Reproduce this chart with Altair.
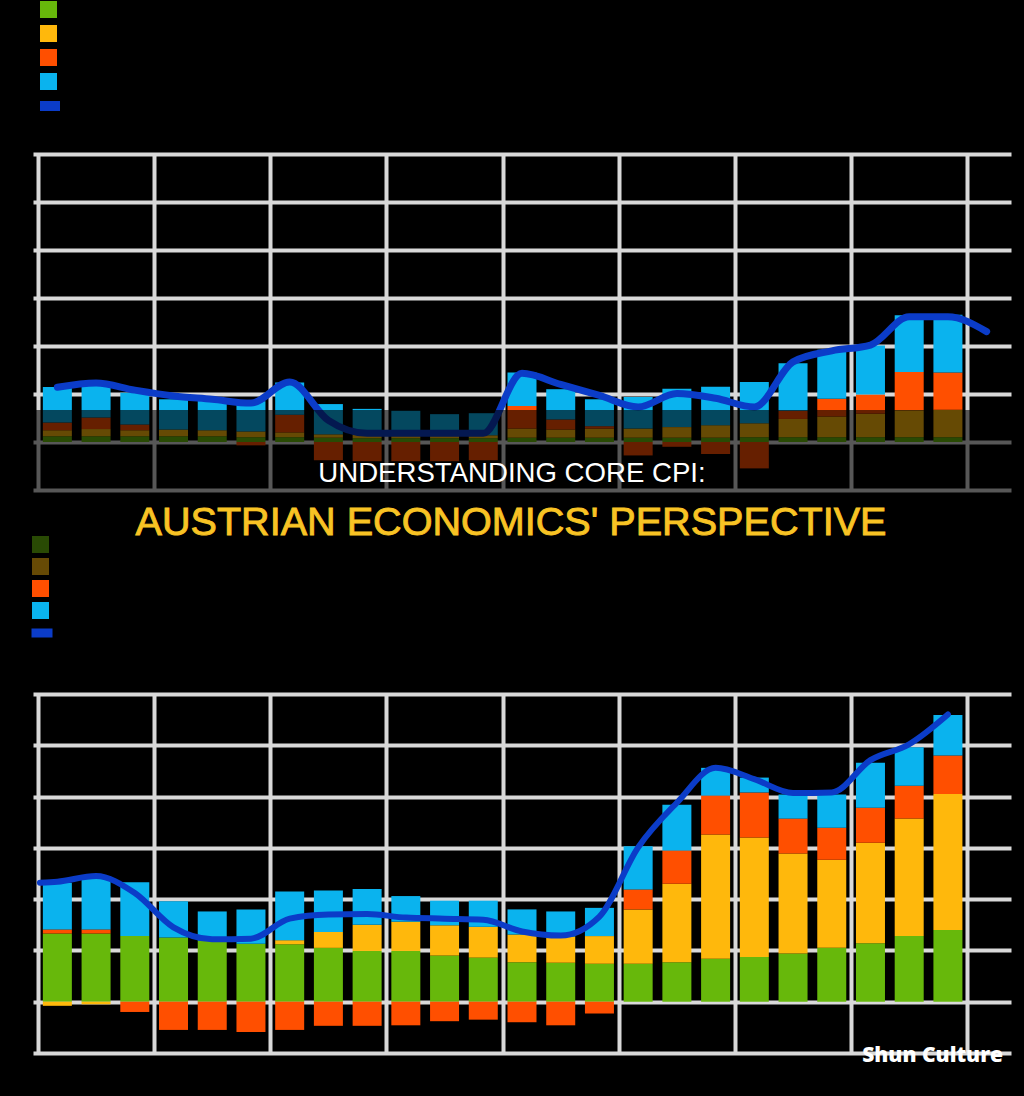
import altair as alt
import pandas as pd

# ---------------- data ----------------
series = ["Energy", "Food", "Core goods", "Core services"]
series_colors = ["#67b80b", "#ffb80c", "#ff4f00", "#0ab3ee"]
line_name = ["Headline CPI"]
line_color = ["#0b3cc8"]

# top panel (24 bars, line with 25 points)
top_green = [0.12, 0.12, 0.12, 0.12, 0.12, 0.10, 0.10, 0.09, 0.08, 0.08, 0.08, 0.08,
             0.09, 0.09, 0.09, 0.09, 0.09, 0.09, 0.10, 0.10, 0.10, 0.10, 0.10, 0.10]
top_yellow = [0.125, 0.15, 0.125, 0.14, 0.125, 0.12, 0.10, 0.07, 0.07, 0.06, 0.06, 0.06,
              0.19, 0.17, 0.19, 0.19, 0.22, 0.26, 0.29, 0.38, 0.43, 0.49, 0.56, 0.57]
top_orange = [0.16, 0.24, 0.12, 0.0, 0.0, -0.07, 0.37, -0.38, -0.40, -0.40, -0.40, -0.38,
              0.47, 0.21, 0.05, -0.28, -0.10, -0.25, -0.55, 0.17, 0.37, 0.40, 0.80, 0.78]
top_blue = [0.74, 0.70, 0.66, 0.63, 0.65, 0.63, 0.67, 0.63, 0.54, 0.51, 0.44, 0.46,
            0.70, 0.63, 0.56, 0.66, 0.80, 0.80, 0.86, 0.99, 1.02, 1.02, 1.18, 1.20]
top_line = [1.14, 1.23, 1.08, 0.96, 0.89, 0.81, 1.25, 0.45, 0.18, 0.18, 0.18, 0.18,
            1.43, 1.20, 0.97, 0.73, 1.01, 0.91, 0.73, 1.67, 1.90, 2.02, 2.61, 2.61, 2.30]
top_line_x = [i + 0.5 for i in range(25)]

# bottom panel (24 bars, line with 25 points)
bot_green = [1.33, 1.33, 1.28, 1.25, 1.19, 1.13, 1.12, 1.05, 0.99, 0.99, 0.90, 0.86,
             0.77, 0.76, 0.74, 0.74, 0.77, 0.84, 0.87, 0.94, 1.05, 1.14, 1.28, 1.40]
bot_yellow = [-0.08, -0.05, 0.0, 0.0, 0.0, 0.0, 0.08, 0.31, 0.51, 0.57, 0.59, 0.60,
              0.54, 0.51, 0.54, 1.06, 1.53, 2.42, 2.33, 1.95, 1.72, 1.96, 2.29, 2.65]
bot_orange = [0.08, 0.08, -0.20, -0.55, -0.55, -0.59, -0.55, -0.47, -0.47, -0.46, -0.38, -0.35,
              -0.40, -0.46, -0.23, 0.39, 0.65, 0.76, 0.88, 0.68, 0.62, 0.68, 0.64, 0.75]
bot_blue = [0.91, 1.04, 1.05, 0.71, 0.57, 0.67, 0.95, 0.81, 0.70, 0.50, 0.48, 0.51,
            0.49, 0.49, 0.55, 0.84, 0.89, 0.54, 0.29, 0.47, 0.65, 0.88, 0.75, 0.79]
bot_line = [2.32, 2.34, 2.45, 2.12, 1.45, 1.22, 1.23, 1.62, 1.70, 1.71, 1.64, 1.62, 1.60,
            1.37, 1.29, 1.66, 3.01, 3.88, 4.56, 4.34, 4.07, 4.08, 4.71, 5.02, 5.60]
bot_line_x = [0.05] + [i + 0.5 for i in range(24)]

title_line1 = ["UNDERSTANDING CORE CPI:"]
title_line2 = ["AUSTRIAN ECONOMICS' PERSPECTIVE"]
watermark = ["Shun Culture"]

y_ticks = [-1, 0, 1, 2, 3, 4, 5, 6]
x_ticks = [0, 3, 6, 9, 12, 15, 18, 21, 24]

GRID = "#d9d9d9"
PLOT_W = 978
TOP_H = 336
BOT_H = 359


def bars_df(cols):
    rows = []
    for s_i, (name, vals) in enumerate(zip(series, cols)):
        for i, v in enumerate(vals):
            rows.append({"x": i + 0.5, "value": v, "series": name, "ord": s_i})
    return pd.DataFrame(rows)


def line_df(xs, vals):
    return pd.DataFrame({"x": xs, "value": vals, "series": line_name[0]})


x_enc = alt.X("x:Q", scale=alt.Scale(domain=[0, 25], nice=False, zero=False),
              axis=alt.Axis(values=x_ticks, grid=True, gridColor=GRID, gridWidth=4,
                            labels=False, ticks=False, domain=False, title=None))
y_axis = alt.Axis(values=y_ticks, grid=True, gridColor=GRID, gridWidth=4,
                  labels=False, ticks=False, domain=False, title=None)
y_scale = alt.Scale(domain=[-1, 6], nice=False)


def panel(cols, lxs, lvals, lw, leg_x, leg_y, sym, row_pad, line_leg_x, line_leg_y,
          line_sym_w, line_sym_h, dim_first=False):
    leg_kwargs = dict(orient="none", legendX=leg_x, legendY=leg_y, title=None,
                      symbolType="square", symbolSize=sym * sym, symbolStrokeWidth=0,
                      labelColor="black", labelFontSize=12, rowPadding=row_pad, padding=0)
    if dim_first:
        leg_kwargs["symbolOpacity"] = {"expr": "datum.index < 2 ? 0.4 : 1"}
    else:
        leg_kwargs["symbolOpacity"] = 1
    bars = alt.Chart(bars_df(cols)).mark_bar(size=29).encode(
        x=x_enc,
        y=alt.Y("value:Q", stack="zero", scale=y_scale, axis=y_axis),
        color=alt.Color("series:N", scale=alt.Scale(domain=series, range=series_colors),
                        legend=alt.Legend(**leg_kwargs)),
        order=alt.Order("ord:Q"),
    )
    line = alt.Chart(line_df(lxs, lvals)).mark_line(
        strokeWidth=lw, interpolate="monotone", strokeCap="round", strokeJoin="round"
    ).encode(
        x="x:Q",
        y="value:Q",
        stroke=alt.Stroke("series:N", scale=alt.Scale(domain=line_name, range=line_color),
                          legend=alt.Legend(orient="none", legendX=line_leg_x,
                                            legendY=line_leg_y,
                                            title=None, symbolType="stroke",
                                            symbolSize=line_sym_w * line_sym_w,
                                            symbolStrokeWidth=line_sym_h,
                                            labelColor="black", labelFontSize=10, padding=0)),
    )
    return bars, line


one = pd.DataFrame({"a": [0]})

# invisible frame that spans the whole canvas (defines the page bounds)
frame = alt.Chart(one).mark_rect(color="black", opacity=0, clip=False).encode(
    x=alt.value(-33), x2=alt.value(991), y=alt.value(-154), y2=alt.value(942))

top_bars, top_ln = panel([top_green, top_yellow, top_orange, top_blue], top_line_x, top_line, 7,
                         7, -153, 17, 7, 2, -63, 20, 10)
top = alt.layer(frame, top_bars, top_ln).properties(width=PLOT_W, height=TOP_H)

bot_bars, bot_ln = panel([bot_green, bot_yellow, bot_orange, bot_blue], bot_line_x, bot_line, 6,
                         -1, -158, 17, 5, -6, -76, 21, 9, dim_first=True)

band = alt.Chart(one).mark_rect(color="black", opacity=0.6, clip=False).encode(
    x=alt.value(-33), x2=alt.value(991), y=alt.value(-284), y2=alt.value(-117))

t1 = alt.Chart(pd.DataFrame({"t": title_line1})).mark_text(
    font="Liberation Sans", fontSize=27.6, color="white", align="center", baseline="alphabetic"
).encode(text="t:N", x=alt.value(479), y=alt.value(-212))

t2 = alt.Chart(pd.DataFrame({"t": title_line2})).mark_text(
    font="Liberation Sans", fontSize=39.6, color="#f8c324", stroke="#f8c324", strokeWidth=0.9,
    align="center", baseline="alphabetic"
).encode(text="t:N", x=alt.value(478), y=alt.value(-159))

wm = alt.Chart(pd.DataFrame({"t": watermark})).mark_text(
    font="Open Sans", fontSize=21, fontWeight=800, color="white", align="right",
    baseline="alphabetic"
).encode(text="t:N", x=alt.value(970), y=alt.value(368))

bottom = alt.layer(bot_bars, bot_ln, band, t1, t2, wm).properties(width=PLOT_W, height=BOT_H)

chart = alt.vconcat(top, bottom, spacing=204, bounds="flush", padding=0).resolve_scale(
    y="independent", color="independent", stroke="independent"
).resolve_legend(color="independent", stroke="independent").configure(
    background="black"
).configure_view(stroke=None)

chart.save("out.html", embed_options={"renderer": "svg", "actions": False})
